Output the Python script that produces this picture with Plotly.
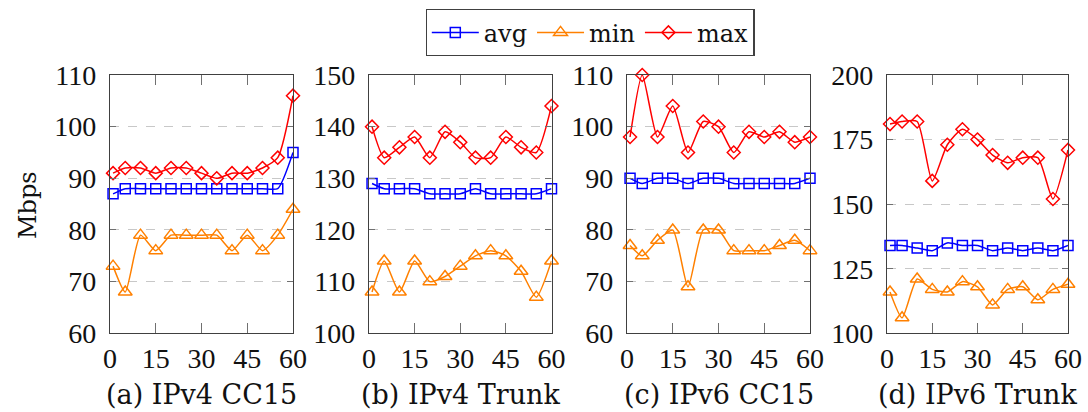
import plotly.graph_objects as go

W, H = 1088, 412

x_vals = [1, 5, 10, 15, 20, 25, 30, 35, 40, 45, 50, 55, 60]
x_ticks = [0, 15, 30, 45, 60]

captions = ["(a) IPv4 CC15", "(b) IPv4 Trunk", "(c) IPv6 CC15", "(d) IPv6 Trunk"]

a_avg = [87, 88, 88, 88, 88, 88, 88, 88, 88, 88, 88, 88, 95]
a_min = [73, 68, 79, 76, 79, 79, 79, 79, 76, 79, 76, 79, 84]
a_max = [91, 92, 92, 91, 92, 92, 91, 90, 91, 91, 92, 94, 106]

b_avg = [129, 128, 128, 128, 127, 127, 127, 128, 127, 127, 127, 127, 128]
b_min = [108, 114, 108, 114, 110, 111, 113, 115, 116, 115, 112, 107, 114]
b_max = [140, 134, 136, 138, 134, 139, 137, 134, 134, 138, 136, 135, 144]

c_avg = [90, 89, 90, 90, 89, 90, 90, 89, 89, 89, 89, 89, 90]
c_min = [77, 75, 78, 80, 69, 80, 80, 76, 76, 76, 77, 78, 76]
c_max = [98, 110, 98, 104, 95, 101, 100, 95, 99, 98, 99, 97, 98]

d_avg = [134, 134, 133, 132, 135, 134, 134, 132, 133, 132, 133, 132, 134]
d_min = [116, 106, 121, 117, 116, 120, 118, 111, 117, 118, 113, 117, 119]
d_max = [181, 182, 182, 159, 173, 179, 175, 169, 166, 168, 168, 152, 171]

panels = [
    (a_avg, a_min, a_max, [60, 110], 10),
    (b_avg, b_min, b_max, [100, 150], 10),
    (c_avg, c_min, c_max, [60, 110], 10),
    (d_avg, d_min, d_max, [100, 200], 25),
]

x_px = [(110, 293), (369, 551.5), (627, 810), (887, 1068)]
top_px, bot_px = 75, 333.3

series_style = [
    ("avg", "#0000FF", "square-open", 10),
    ("min", "#FF8000", "triangle-up-open", 12),
    ("max", "#FF0000", "diamond-open", 10),
]

TICK_FONT = "Liberation Serif"
TEXT_FONT = "DejaVu Serif"
FS = 28

fig = go.Figure()
layout = {}
for i, (avg, mn, mx, yr, dt) in enumerate(panels):
    n = "" if i == 0 else str(i + 1)
    xa, ya = "x" + n, "y" + n
    for (name, col, sym, sz), vals in zip(series_style, [avg, mn, mx]):
        fig.add_trace(go.Scatter(
            x=x_vals, y=vals, xaxis=xa, yaxis=ya, name=name,
            mode="lines+markers", showlegend=(i == 0),
            line=dict(color=col, width=1.5, shape="spline", smoothing=0.6),
            marker=dict(symbol=sym, size=sz, color=col, line=dict(color=col, width=1.5)),
            cliponaxis=False,
        ))
    l, r = x_px[i]
    layout["xaxis" + n] = dict(
        domain=[l / W, r / W], anchor=ya, range=[0, 60], tickvals=x_ticks,
        showgrid=False, zeroline=False, showline=True, mirror="ticks",
        linecolor="#404040", linewidth=1.3, ticks="inside", ticklen=10,
        tickcolor="#707070", tickwidth=1.2, automargin=False,
        tickfont=dict(family=TICK_FONT, size=FS, color="#111"),
    )
    layout["yaxis" + n] = dict(
        domain=[1 - bot_px / H, 1 - top_px / H], anchor=xa, range=yr, dtick=dt,
        tick0=yr[0], showgrid=True, gridcolor="#c8c8c8", griddash="dash", gridwidth=1,
        zeroline=False, showline=True, mirror="ticks", automargin=False,
        linecolor="#404040", linewidth=1.3, ticks="inside", ticklen=6,
        tickcolor="#707070", tickwidth=1.2, ticklabelstandoff=7,
        tickfont=dict(family=TICK_FONT, size=FS, color="#111"),
    )

annotations = []
for i, cap in enumerate(captions):
    l, r = x_px[i]
    annotations.append(dict(
        text=cap, x=(l + r) / 2 / W, y=1 - 394 / H, xref="paper", yref="paper",
        showarrow=False, xanchor="center", yanchor="middle",
        font=dict(family=TEXT_FONT, size=27, color="#111"),
    ))
annotations.append(dict(
    text="Mbps", x=28 / W, y=1 - 205 / H, xref="paper", yref="paper",
    showarrow=False, xanchor="center", yanchor="middle", textangle=-90,
    font=dict(family=TEXT_FONT, size=24, color="#111"),
))

fig.update_layout(
    width=W, height=H, margin=dict(l=0, r=0, t=0, b=0, pad=0, autoexpand=False),
    plot_bgcolor="white", paper_bgcolor="white",
    annotations=annotations,
    legend=dict(
        orientation="h", x=590 / W, y=1 - 9 / H, xanchor="center", yanchor="top",
        bordercolor="#404040", borderwidth=1.3, bgcolor="white",
        itemwidth=47, tracegroupgap=0,
        font=dict(family=TEXT_FONT, size=24, color="#111"),
    ),
    **layout,
)

fig.write_html("out.html")
